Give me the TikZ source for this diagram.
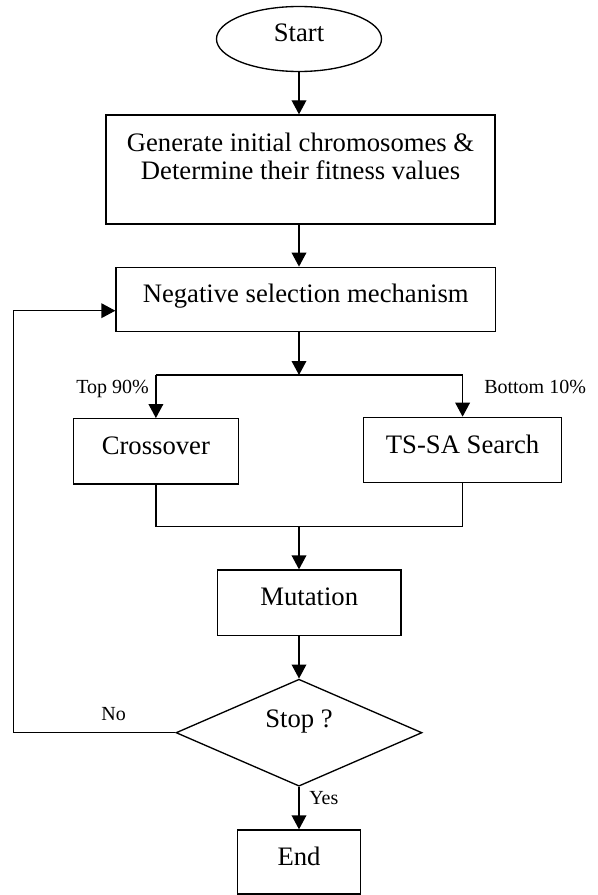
\documentclass[tikz,border=0pt]{standalone}
\usepackage{fontspec}
\setmainfont{Liberation Serif}
\usetikzlibrary{arrows.meta,calc,positioning,shapes.geometric}

\begin{document}
\begin{tikzpicture}[x=0.75pt,y=-0.75pt,>={Triangle[length=10.5pt,width=11pt]},
  every node/.style={font=\fontsize{20}{21}\selectfont},
  box/.style={draw,line width=1pt,inner sep=0pt,text height=10pt,text depth=5.5pt},
  lbl/.style={font=\fontsize{15}{18}\selectfont,inner sep=0pt},
  flow/.style={line width=1pt}]
  \useasboundingbox (0,0) rectangle (598,895);
  \node[box,ellipse,minimum width=123.75pt,minimum height=48.75pt] (start) at (299,39) {Start};
  \node[box,minimum width=291.75pt,minimum height=81.75pt] (gen) at (300.5,169.5) {};
  \node[align=center,inner sep=0pt] (gentext) at (300.5,156.6) {Generate initial chromosomes \&\\Determine their fitness values};
  \node[box,minimum width=284.5pt,minimum height=48.3pt] (neg) at (305.7,299.5) {Negative selection mechanism};
  \node[box,minimum width=123.9pt,minimum height=49pt] (cross) at (155.9,451.4) {Crossover};
  \node[box,minimum width=148.8pt,minimum height=49pt] (tssa) at (462.6,450) {TS-SA Search};
  \node[box,minimum width=137.8pt,minimum height=49pt] (mut) at (309.2,602.7) {Mutation};
  \node[box,diamond,minimum width=184.5pt,minimum height=80.25pt,text height=6pt,text depth=13.5pt] (stop) at (299,732.7) {Stop ?};
  \node[box,minimum width=92.5pt,minimum height=48pt] (end) at (299,862) {End};
  \coordinate (split) at (299,375);
  \coordinate (merge) at (299,526.7);
  \coordinate (loop) at (13.4,310.7);

  \draw[flow,->] (start) -- (start |- gen.north);
  \draw[flow,->] (start |- gen.south) -- (start |- neg.north);
  \draw[flow,->] (start |- neg.south) -- (split);
  \draw[flow] (split -| cross) -- (split -| tssa);
  \draw[flow,->] (split -| cross) -- (cross);
  \draw[flow,->] (split -| tssa) -- (tssa);
  \node[lbl,anchor=base east] (top) at (149,393) {Top 90\%};
  \node[lbl,anchor=base west] (bottom) at (484,393) {Bottom 10\%};
  \draw[flow] (cross) -- (cross |- merge) -- (tssa |- merge) -- (tssa);
  \draw[flow,->] (merge) -- (merge |- mut.north);
  \draw[flow,->] (start |- mut.south) -- (stop.north);
  \draw[flow,->] (stop.south) -- (end.north);
  \node[lbl,anchor=base west] (yes) at (309,804) {Yes};
  \draw[flow,->] (stop.west) -| (loop) -- (loop -| neg.west);
  \node[lbl,anchor=base] (no) at (113.7,720) {No};
\end{tikzpicture}
\end{document}
